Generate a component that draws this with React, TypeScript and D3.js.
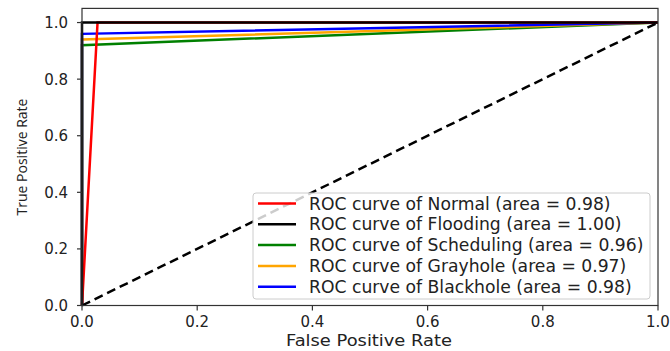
import React from 'react';
import * as d3 from 'd3';

const classes = ['Normal', 'Flooding', 'Scheduling', 'Grayhole', 'Blackhole'];
const colors = ['#ff0000', '#000000', '#008000', '#ffa500', '#0000ff'];
const areas = ['0.98', '1.00', '0.96', '0.97', '0.98'];
const fprs = [[0, 0.027, 1], [0, 0, 1], [0, 0, 1], [0, 0, 1], [0, 0, 1]];
const tprs = [[0, 1, 1], [0, 1, 1], [0, 0.92, 1], [0, 0.94, 1], [0, 0.96, 1]];
const xTicks = [0, 0.2, 0.4, 0.6, 0.8, 1.0];
const yTicks = [0, 0.2, 0.4, 0.6, 0.8, 1.0];
const drawOrder = [2, 3, 4, 0, 1];

export default function App() {
  const W = 670, H = 351;
  const x = d3.scaleLinear().domain([0, 1]).range([82, 658]);
  const y = d3.scaleLinear().domain([0, 1.05]).range([305.5, 8.4]);
  const line = d3.line<[number, number]>().x(d => x(d[0])).y(d => y(d[1]));
  const font = 'DejaVu Sans, sans-serif';
  const legX = 253, legY = 193, legW = 397, legH = 106;
  const rowY = (i: number) => legY + 10.5 + i * 20.8;
  return (
    <svg width={W} height={H} style={{ position: 'absolute', left: 0, top: 0, background: '#fff' }}>
      <rect x={0} y={0} width={W} height={H} fill="#fff" />
      {drawOrder.map(i => (
        <path key={i} d={line(fprs[i].map((f, k) => [f, tprs[i][k]]) as [number, number][]) || ''}
          fill="none" stroke={colors[i]} strokeWidth={2.5} />
      ))}
      <path d={line([[0, 0], [1, 1]]) || ''} fill="none" stroke="#000" strokeWidth={2.5} strokeDasharray="9,5" />
      <rect x={x(0)} y={y(1.05)} width={x(1) - x(0)} height={y(0) - y(1.05)} fill="none" stroke="#333" strokeWidth={1.2} />
      {xTicks.map(t => (
        <g key={'x' + t}>
          <line x1={x(t)} x2={x(t)} y1={y(0)} y2={y(0) + 5} stroke="#333" strokeWidth={1.2} />
          <text x={x(t)} y={326.5} textAnchor="middle" fontFamily={font} fontSize={15} fill="#222">{t.toFixed(1)}</text>
        </g>
      ))}
      {yTicks.map(t => (
        <g key={'y' + t}>
          <line x1={x(0) - 5} x2={x(0)} y1={y(t)} y2={y(t)} stroke="#333" strokeWidth={1.2} />
          <text x={68} y={y(t)} dy="0.36em" textAnchor="end" fontFamily={font} fontSize={15} fill="#222">{t.toFixed(1)}</text>
        </g>
      ))}
      <text x={286} y={346} textLength={166} lengthAdjust="spacingAndGlyphs" fontFamily={font} fontSize={15.5} fill="#222">False Positive Rate</text>
      <text transform={`translate(27,157) rotate(-90)`} textAnchor="middle" fontFamily="Open Sans, sans-serif" fontSize={14} fill="#222">True Positive Rate</text>
      <rect x={legX} y={legY} width={legW} height={legH} rx={3} fill="#fff" fillOpacity={0.8} stroke="#cccccc" strokeWidth={1} />
      {classes.map((c, i) => (
        <g key={c}>
          <line x1={258} x2={296} y1={rowY(i)} y2={rowY(i)} stroke={colors[i]} strokeWidth={2.5} />
          <text x={309} y={rowY(i)} dy="0.36em" fontFamily={font} fontSize={17.2} fill="#222">{`ROC curve of ${c} (area = ${areas[i]})`}</text>
        </g>
      ))}
    </svg>
  );
}
